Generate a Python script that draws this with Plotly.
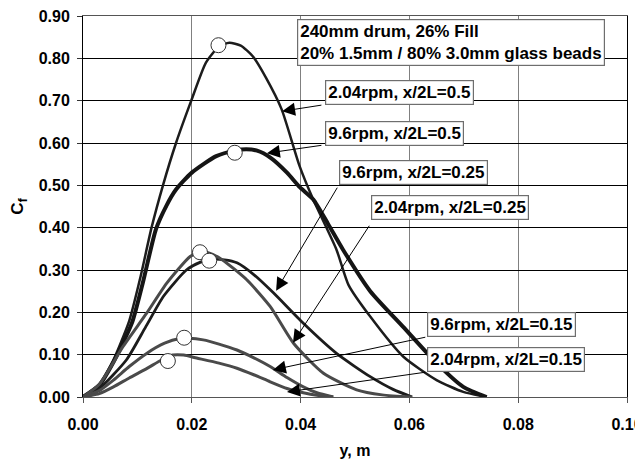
import plotly.graph_objects as go

# ---- data ----
A_x = [0, 0.003, 0.0055, 0.0085, 0.0105, 0.0126, 0.0147, 0.0171, 0.0199, 0.0226, 0.0250, 0.0269, 0.0290,
       0.0312, 0.0336, 0.0365, 0.0398, 0.0423, 0.0466, 0.0488, 0.0528, 0.0589, 0.0650, 0.0699, 0.0742]
A_y = [0, 0.03, 0.085, 0.18, 0.28, 0.40, 0.50, 0.60, 0.70, 0.79, 0.828, 0.837, 0.83,
       0.805, 0.755, 0.68, 0.546, 0.467, 0.348, 0.265, 0.19, 0.095, 0.04, 0.012, 0.0]

B_x = [0, 0.003, 0.0057, 0.009, 0.011, 0.0134, 0.0153, 0.0171, 0.0200, 0.0245, 0.0280, 0.0300, 0.0320,
       0.0345, 0.0375, 0.0399, 0.0423, 0.0450, 0.0478, 0.0528, 0.0589, 0.0650, 0.0699, 0.0742]
B_y = [0, 0.028, 0.085, 0.175, 0.27, 0.396, 0.451, 0.49, 0.53, 0.569, 0.582, 0.585, 0.582,
       0.565, 0.53, 0.495, 0.467, 0.41, 0.348, 0.25, 0.165, 0.08, 0.024, 0.0]

C_x = [0, 0.003, 0.008, 0.0115, 0.0148, 0.019, 0.0215, 0.0235, 0.026, 0.0283, 0.0315, 0.035,
       0.0405, 0.0466, 0.0528, 0.057, 0.0605]
C_y = [0, 0.02, 0.088, 0.165, 0.238, 0.30, 0.318, 0.325, 0.324, 0.317, 0.288, 0.246,
       0.174, 0.103, 0.048, 0.018, 0.0]

D_x = [0, 0.003, 0.0074, 0.0117, 0.0154, 0.0197, 0.0215, 0.023, 0.0255, 0.0301, 0.0344, 0.0387,
       0.0442, 0.0503, 0.055, 0.0605]
D_y = [0, 0.03, 0.12, 0.198, 0.269, 0.332, 0.342, 0.341, 0.325, 0.277, 0.214, 0.127,
       0.056, 0.017, 0.005, 0.0]

E_x = [0, 0.003, 0.0056, 0.0085, 0.0117, 0.015, 0.0178, 0.0195, 0.0221, 0.025, 0.0283, 0.0315,
       0.0344, 0.0375, 0.0405, 0.043, 0.046]
E_y = [0, 0.015, 0.04, 0.072, 0.103, 0.127, 0.138, 0.139, 0.135, 0.125, 0.111, 0.092,
       0.072, 0.046, 0.024, 0.01, 0.0]

F_x = [0, 0.003, 0.0056, 0.0085, 0.0117, 0.0145, 0.0165, 0.0185, 0.0209, 0.025, 0.0283, 0.0315,
       0.0344, 0.0375, 0.0405, 0.043, 0.046]
F_y = [0, 0.008, 0.024, 0.045, 0.067, 0.088, 0.099, 0.099, 0.092, 0.08, 0.068, 0.052,
       0.036, 0.02, 0.01, 0.004, 0.0]

# peak markers (open circles)
marker_x = [0.0249, 0.0279, 0.0215, 0.0232, 0.0186, 0.0156]
marker_y = [0.831, 0.577, 0.342, 0.322, 0.140, 0.085]

# curve labels: text, box left x, box centre y, arrow tail (x, y), arrow tip (x, y)
labels = ["2.04rpm, x/2L=0.5", "9.6rpm, x/2L=0.5", "9.6rpm, x/2L=0.25",
          "2.04rpm, x/2L=0.25", "9.6rpm, x/2L=0.15", "2.04rpm, x/2L=0.15"]
label_x = [0.0445, 0.0445, 0.0471, 0.0529, 0.0632, 0.0632]
label_y = [0.719, 0.623, 0.531, 0.447, 0.172, 0.0877]
tail_x = [0.0441, 0.0441, 0.0469, 0.0528, 0.0632, 0.0632]
tail_y = [0.690, 0.595, 0.498, 0.408, 0.142, 0.059]
tip_x = [0.0366, 0.0338, 0.0355, 0.0386, 0.0349, 0.0375]
tip_y = [0.675, 0.576, 0.251, 0.128, 0.064, 0.012]

info_lines = ["240mm drum, 26% Fill", "20% 1.5mm / 80% 3.0mm glass beads"]

x_ticks = [0.00, 0.02, 0.04, 0.06, 0.08, 0.10]
y_ticks = [0.0, 0.1, 0.2, 0.3, 0.4, 0.5, 0.6, 0.7, 0.8, 0.9]

FONT = "Liberation Sans, Arial, sans-serif"

series = [
    (A_x, A_y, "#1c1c1c", 2.5),
    (B_x, B_y, "#151515", 4.0),
    (C_x, C_y, "#1c1c1c", 2.8),
    (D_x, D_y, "#4a4a4a", 3.0),
    (E_x, E_y, "#4a4a4a", 3.0),
    (F_x, F_y, "#4a4a4a", 3.0),
]

fig = go.Figure()
for xs, ys, col, w in series:
    fig.add_trace(go.Scatter(x=xs, y=ys, mode="lines",
                             line=dict(color=col, width=w, shape="spline", smoothing=0.6),
                             showlegend=False, hoverinfo="skip"))

fig.add_trace(go.Scatter(x=marker_x, y=marker_y, mode="markers",
                         marker=dict(size=15, color="white", line=dict(color="#333333", width=1)),
                         showlegend=False, hoverinfo="skip"))

ann = []
ann.append(dict(x=0.0393, y=0.8377, xref="x", yref="y", xanchor="left", yanchor="middle",
                text="<br>".join(info_lines), align="left", showarrow=False,
                font=dict(family=FONT, size=17, color="black", weight="bold"),
                bgcolor="white", bordercolor="#6e6e6e", borderwidth=1.2, borderpad=2))
for t, lx, ly in zip(labels, label_x, label_y):
    ann.append(dict(x=lx, y=ly, xref="x", yref="y", xanchor="left", yanchor="middle",
                    text=t, showarrow=False,
                    font=dict(family=FONT, size=17, color="black", weight="bold"),
                    bgcolor="white", bordercolor="#6e6e6e", borderwidth=1.2, borderpad=2))
for tx, ty, hx, hy in zip(tail_x, tail_y, tip_x, tip_y):
    ann.append(dict(x=hx, y=hy, xref="x", yref="y", ax=tx, ay=ty, axref="x", ayref="y",
                    text="", showarrow=True, arrowhead=2, arrowsize=2.6, arrowwidth=1,
                    arrowcolor="black", standoff=0))

# the page body has an 8px margin, so the figure is made 8px smaller and shifted
fig.update_layout(
    width=635, height=454,
    margin=dict(l=75, r=16, t=8, b=65),
    paper_bgcolor="white", plot_bgcolor="white",
    font=dict(family=FONT, color="black"),
    annotations=ann,
    xaxis=dict(range=[0, 0.1000001], tickvals=x_ticks, tickformat=".2f", automargin=False,
               ticklabeloverflow="allow",
               showgrid=True, gridcolor="#808080", gridwidth=1, zeroline=False,
               showline=True, linecolor="#555555", linewidth=1, mirror=True,
               ticks="outside", ticklen=5, tickcolor="#555555", ticklabelstandoff=8,
               tickfont=dict(family=FONT, size=16, color="black", weight="bold"),
               title=dict(text="y, m", standoff=12,
                          font=dict(family=FONT, size=16, color="black", weight="bold"))),
    yaxis=dict(range=[0, 0.9000001], tickvals=y_ticks, tickformat=".2f", automargin=False,
               ticklabeloverflow="allow",
               showgrid=True, gridcolor="#000000", gridwidth=1, zeroline=False,
               showline=True, linecolor="#000000", linewidth=1, mirror=True,
               ticks="outside", ticklen=5, tickcolor="#333333", ticklabelstandoff=4,
               tickfont=dict(family=FONT, size=16, color="black", weight="bold"),
               title=dict(text="C<sub>f</sub>", standoff=12,
                          font=dict(family=FONT, size=17, color="black", weight="bold"))),
)

fig.write_html("out.html")
